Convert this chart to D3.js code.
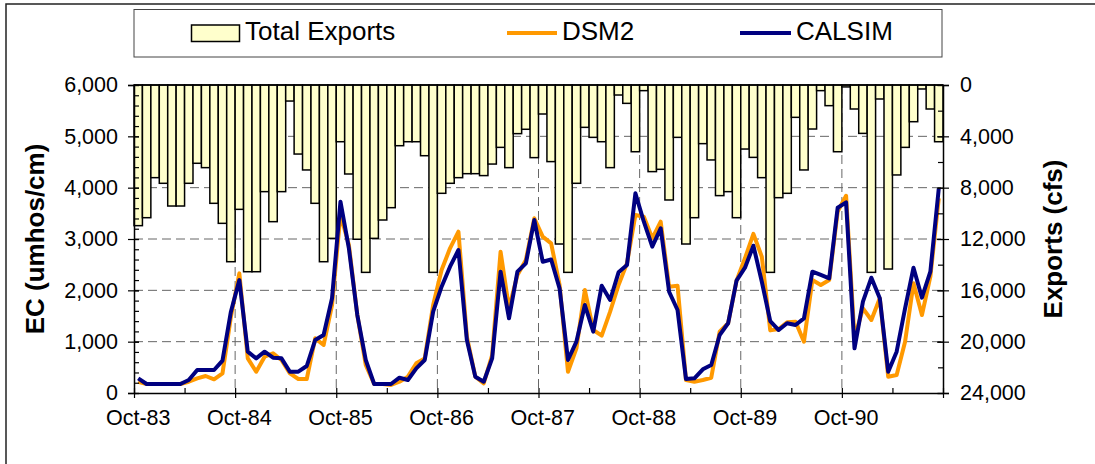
<!DOCTYPE html>
<html>
<head>
<meta charset="utf-8">
<script src="https://cdn.jsdelivr.net/npm/d3@7"></script>
<style>
  body { margin: 0; background: #fff; }
  svg { display: block; font-family: "Liberation Sans", Arial, sans-serif; }
</style>
</head>
<body>
<div id="chart"></div>
<script>
const width = 1095
const height = 464

// monthly, Oct-83 .. Sep-91
const months = d3.timeMonth.range(new Date(1983, 9, 1), new Date(1991, 9, 1))

const totalExports = [
  10960, 10340, 7220, 7660, 9430, 9430, 7660, 6100, 6440, 9220, 10780, 13770,
  9690, 14550, 14550, 8310, 10650, 8310, 1250, 5380, 6620, 9220, 13770, 11950,
  4420, 6935, 12020, 14600, 11950, 10520, 9560, 4730, 4420, 4420, 5510, 14600,
  8440, 7660, 7220, 6910, 6910, 7060, 6160, 4860, 6440, 3790, 3450, 5660,
  2260, 5970, 12390, 14600, 7660, 3300, 4080, 4420, 6440, 780, 1430, 5200,
  440, 6750, 6570, 8960, 4080, 12390, 10340, 4570, 5840, 8620, 8310, 10340,
  4990, 5640, 7220, 14600, 8780, 8440, 2520, 6620, 3430, 440, 1610, 5200,
  150, 1870, 3770, 14600, 1090, 14340, 7010, 4860, 2860, 310, 1870, 4420
]

const dsm2 = [
  220, 175, 175, 175, 175, 175, 220, 286, 331, 266, 383, 1487,
  2330, 675, 415, 707, 773, 643, 383, 273, 273, 1065, 935, 1714,
  3480, 2883, 1519, 545, 175, 175, 156, 220, 318, 578, 675, 1714,
  2396, 2818, 3142, 1097, 318, 188, 740, 2753, 1650, 2299, 2591, 3403,
  3045, 2916, 2104, 415, 870, 2006, 1227, 1116, 1584, 2104, 2526, 3467,
  3434, 3013, 3337, 2071, 2091, 253, 220, 253, 298, 1194, 1358, 2188,
  2624, 3100, 2655, 1220, 1247, 1377, 1390, 1000, 2201, 2104, 2201, 3532,
  3843, 1065, 1650, 1422, 1845, 318, 350, 1000, 2136, 1519, 2266, 3792
]

const calsim = [
  286, 175, 175, 175, 175, 175, 253, 448, 448, 448, 630, 1584,
  2200, 805, 675, 805, 688, 675, 415, 415, 526, 1032, 1130, 1845,
  3727, 2818, 1519, 643, 175, 175, 175, 298, 253, 481, 643, 1584,
  2071, 2460, 2786, 1032, 318, 220, 675, 2363, 1455, 2363, 2526, 3370,
  2558, 2600, 2039, 643, 1000, 1714, 1194, 2091, 1812, 2351, 2493, 3890,
  3337, 2850, 3208, 1973, 1617, 273, 286, 461, 545, 1130, 1358, 2188,
  2441, 2869, 2168, 1400, 1227, 1358, 1325, 1455, 2363, 2299, 2234, 3610,
  3714, 870, 1779, 2246, 1845, 415, 805, 1650, 2441, 1857, 2363, 3987
]

const ecTicks = [0, 1000, 2000, 3000, 4000, 5000, 6000]
const exportTicks = [0, 4000, 8000, 12000, 16000, 20000, 24000]

const pL = 134, pR = 943, pT = 85, pB = 393

const svg = d3.select("#chart")
  .append("svg")
  .attr("width", width)
  .attr("height", height)

// outer chart border
svg.append("rect")
  .attr("x", 6).attr("y", 4)
  .attr("width", 1200).attr("height", 600)
  .attr("fill", "none")
  .attr("stroke", "#222")
  .attr("stroke-width", 1.5)

const x = d3.scaleBand()
  .domain(d3.range(months.length))
  .range([pL, pR])
  .padding(0)

const xi = d3.scaleLinear()
  .domain([0, months.length])
  .range([pL, pR])

const yL = d3.scaleLinear().domain([0, 6000]).range([pB, pT])
const yR = d3.scaleLinear().domain([0, 24000]).range([pT, pB])

// gridlines
const grid = svg.append("g")
grid.selectAll("line.h")
  .data(ecTicks.filter(d => d > 0 && d < 6000))
  .enter().append("line")
  .attr("x1", pL).attr("x2", pR)
  .attr("y1", d => yL(d)).attr("y2", d => yL(d))
  .attr("stroke", "#666")
  .attr("stroke-dasharray", "9,5")

const octIdx = d3.range(12, months.length, 12)
grid.selectAll("line.v")
  .data(octIdx)
  .enter().append("line")
  .attr("x1", d => xi(d)).attr("x2", d => xi(d))
  .attr("y1", pT).attr("y2", pB)
  .attr("stroke", "#666")
  .attr("stroke-dasharray", "9,5")

// bars hanging from top
svg.append("g")
  .selectAll("rect")
  .data(totalExports)
  .enter().append("rect")
  .attr("x", (d, i) => x(i))
  .attr("y", yR(0))
  .attr("width", x.bandwidth())
  .attr("height", d => yR(d) - yR(0))
  .attr("fill", "#FFFFCC")
  .attr("stroke", "#000")
  .attr("stroke-width", 1.5)

// top line
svg.append("line")
  .attr("x1", pL).attr("x2", pR)
  .attr("y1", pT).attr("y2", pT)
  .attr("stroke", "#000").attr("stroke-width", 1.5)

// lines
const line = d3.line()
  .x((d, i) => x(i) + x.bandwidth() / 2)
  .y(d => yL(d))

svg.append("path")
  .datum(dsm2)
  .attr("d", line)
  .attr("fill", "none")
  .attr("stroke", "#FF9900")
  .attr("stroke-width", 4)
  .attr("stroke-linejoin", "round")

svg.append("path")
  .datum(calsim)
  .attr("d", line)
  .attr("fill", "none")
  .attr("stroke", "#000080")
  .attr("stroke-width", 4)
  .attr("stroke-linejoin", "round")

// left axis
const axL = svg.append("g")
  .attr("transform", `translate(${pL},0)`)
  .call(d3.axisLeft(yL).tickValues(ecTicks).tickFormat(d3.format(",")).tickSize(6).tickPadding(10))
axL.selectAll(".tick line").attr("x2", 5).attr("x1", -6)
svg.append("g")
  .attr("transform", `translate(${pL},0)`)
  .call(d3.axisRight(yL).tickValues(d3.range(0, 6001, 200)).tickFormat("").tickSize(5).tickSizeOuter(0))
  .select(".domain").remove()

// right axis
const axR = svg.append("g")
  .attr("transform", `translate(${pR},0)`)
  .call(d3.axisRight(yR).tickValues(exportTicks).tickFormat(d3.format(",")).tickSize(6).tickPadding(11))
axR.selectAll(".tick line").attr("x1", -6).attr("x2", 6)
svg.append("g")
  .attr("transform", `translate(${pR},0)`)
  .call(d3.axisLeft(yR).tickValues(d3.range(0, 24001, 2000)).tickFormat("").tickSize(5).tickSizeOuter(0))
  .select(".domain").remove()

// bottom axis
const axB = svg.append("g")
  .attr("transform", `translate(0,${pB})`)
  .call(d3.axisBottom(xi).tickValues(d3.range(0, months.length + 1, 12)).tickFormat("").tickSize(5).tickSizeOuter(0))
axB.selectAll(".tick line").attr("y1", -5).attr("y2", 5)
svg.append("g")
  .attr("transform", `translate(0,${pB})`)
  .call(d3.axisTop(xi).tickValues(d3.range(6, months.length, 12)).tickFormat("").tickSize(5).tickSizeOuter(0))
  .select(".domain").remove()

svg.selectAll(".domain").attr("stroke", "#000").attr("stroke-width", 1.5)
svg.selectAll(".tick line").attr("stroke", "#000").attr("stroke-width", 1.2)
svg.selectAll(".tick text").attr("font-size", 21.5).attr("fill", "#000")
  .attr("font-family", '"Liberation Sans", Arial, sans-serif')

const fmtMonth = d3.timeFormat("%b-%y")
svg.append("g")
  .selectAll("text")
  .data(d3.range(0, months.length, 12))
  .enter().append("text")
  .attr("x", d => x(d) + x.bandwidth() / 2)
  .attr("y", 425)
  .attr("text-anchor", "middle")
  .attr("font-size", 21.5)
  .text(d => fmtMonth(months[d]))

// axis titles
svg.append("text")
  .attr("transform", `translate(44,${(pT + pB) / 2}) rotate(-90)`)
  .attr("text-anchor", "middle")
  .attr("font-size", 26)
  .attr("font-weight", "bold")
  .text("EC (umhos/cm)")

svg.append("text")
  .attr("transform", `translate(1062,${(pT + pB) / 2}) rotate(-90)`)
  .attr("text-anchor", "middle")
  .attr("font-size", 26)
  .attr("font-weight", "bold")
  .text("Exports (cfs)")

// legend
const legend = svg.append("g")
legend.append("rect")
  .attr("x", 134).attr("y", 9.5)
  .attr("width", 808).attr("height", 47.5)
  .attr("fill", "#fff")
  .attr("stroke", "#444")
  .attr("stroke-width", 1)
legend.append("rect")
  .attr("x", 191.5).attr("y", 25)
  .attr("width", 48).attr("height", 16.5)
  .attr("fill", "#FFFFCC")
  .attr("stroke", "#000")
  .attr("stroke-width", 1.5)
legend.append("text").attr("x", 245).attr("y", 40).attr("font-size", 26).text("Total Exports")
legend.append("line")
  .attr("x1", 507).attr("x2", 557).attr("y1", 33).attr("y2", 33)
  .attr("stroke", "#FF9900").attr("stroke-width", 4)
legend.append("text").attr("x", 562).attr("y", 40).attr("font-size", 26).text("DSM2")
legend.append("line")
  .attr("x1", 740).attr("x2", 791).attr("y1", 33).attr("y2", 33)
  .attr("stroke", "#000080").attr("stroke-width", 4)
legend.append("text").attr("x", 796).attr("y", 40).attr("font-size", 26).text("CALSIM")
</script>
</body>
</html>
